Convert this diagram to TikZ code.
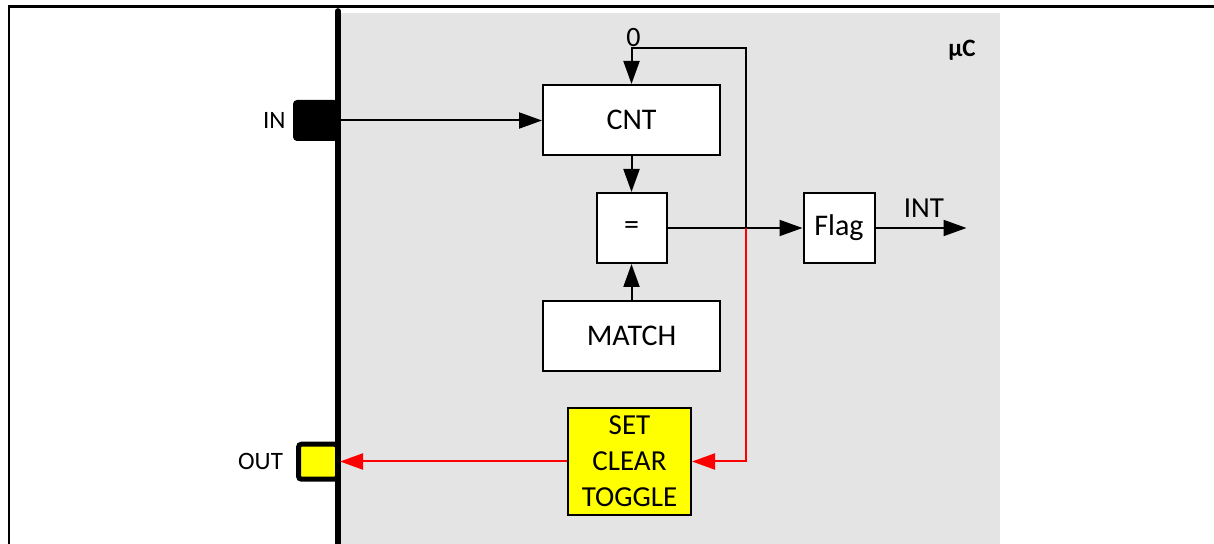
\documentclass[tikz,border=0pt]{standalone}
\usepackage{fontspec}
\setmainfont{Carlito}
\usetikzlibrary{positioning,arrows.meta}
\definecolor{ucgrey}{HTML}{E4E4E4}
\definecolor{sigred}{HTML}{FF0000}
\definecolor{padyellow}{HTML}{FFFF00}

\begin{document}
\begin{tikzpicture}[x=0.5pt,y=-0.5pt,node distance=18pt,>={Triangle[length=11.5pt,width=8pt]},
  box/.style={draw, fill=white, line width=1pt, font=\fontsize{15}{18}\selectfont, minimum height=35pt},
  lbl/.style={font=\fontsize{12.5}{15}\selectfont},
  wire/.style={line width=1pt}]
  \useasboundingbox (0,0) rectangle (1214,544);
  % frame and chip area
  \draw[line width=1.1pt] (9,560) -- (9,6.5) -- (1230,6.5);
  \fill[ucgrey] (340,13) rectangle (1000,560);
  \node (inpad) [fill=black, rounded corners=2pt, minimum width=22.5pt, minimum height=20.5pt, inner sep=0pt] at (315.5,120.5) {};
  \node (outpad) [draw, fill=padyellow, line width=2.5pt, rounded corners=1.5pt, minimum width=19.5pt, minimum height=17.5pt, inner sep=0pt] at (318,461.7) {};
  \draw[line width=2.8pt, line cap=round] (338,11) -- (338,560);
  \node (in) [lbl, left=0pt of inpad] {IN};
  \node (out) [lbl, left=3pt of outpad] {OUT};
  \node (uc) [font=\fontsize{12.5}{15}\selectfont\bfseries] at (962,50) {μC};

  % blocks
  \node (cnt) [box, minimum width=88.5pt] at (631.5,120) {CNT};
  \node (eq) [box, below=of cnt, minimum width=35pt] {=};
  \node (match) [box, below=of eq, minimum width=88.5pt] {MATCH};
  \node (flag) [box, right=67.5pt of eq, minimum width=35.5pt] {Flag};
  \node (sct) [box, below=17.5pt of match, xshift=-1pt, fill=padyellow, minimum width=61.5pt, minimum height=53.5pt,
    inner sep=2pt, align=center, font=\fontsize{14.5}{18}\selectfont] {SET\\CLEAR\\TOGGLE};

  \coordinate[above=of cnt] (top);
  \coordinate[right=39pt of eq] (jn);
  \coordinate[right=45.5pt of flag] (intend);
  \node (zero) [above=0.5pt of top, xshift=1pt, inner sep=0pt, font=\fontsize{14}{16}\selectfont] {0};

  % signal paths
  \draw[wire,->] (inpad) -- (inpad -| cnt.west);
  \draw[wire,->] (cnt) -- (eq);
  \draw[wire,->] (match) -- (eq);
  \draw[wire,->] (eq) -- (flag);
  \draw[wire,->] (flag) -- (intend) node (int) [midway, above, xshift=1.5pt, inner sep=4.5pt, font=\fontsize{14.5}{16}\selectfont] {INT};
  \draw[wire,->] (jn) |- (top) -- (cnt);
  \draw[wire,sigred,->] (jn) |- (sct);
  \draw[wire,sigred,->] (sct) -- (sct -| outpad.east);
\end{tikzpicture}
\end{document}
